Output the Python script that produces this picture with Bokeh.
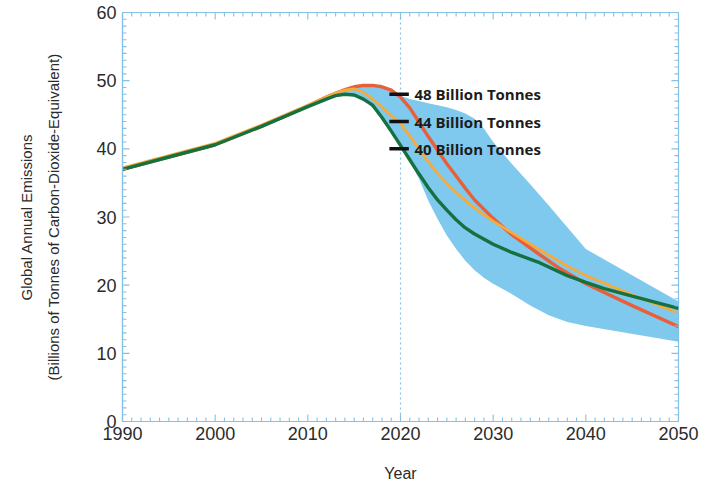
import numpy as np
from bokeh.plotting import figure
from bokeh.models import (LinearAxis, SingleIntervalTicker, FixedTicker, Range1d,
                          Span, ColumnDataSource)
from bokeh.core.properties import value
from bokeh.embed import file_html
from bokeh.resources import INLINE

# ---------------- data ----------------
green_years = [1990, 1995, 2000, 2005, 2010, 2012, 2013, 2014, 2015, 2016, 2017, 2018, 2019,
               2020, 2021, 2022, 2023, 2024, 2025, 2026, 2027, 2028, 2030, 2032, 2035, 2038,
               2040, 2042, 2045, 2050]
green_vals = [37.0, 38.8, 40.6, 43.3, 46.2, 47.3, 47.8, 48.0, 47.9, 47.3, 46.4, 44.6, 42.6,
              40.5, 38.4, 36.3, 34.3, 32.5, 31.0, 29.6, 28.4, 27.5, 26.0, 24.8, 23.3, 21.4,
              20.4, 19.5, 18.4, 16.6]

orange_years = [1990, 1995, 2000, 2005, 2010, 2012, 2013, 2014, 2015, 2016, 2017, 2018, 2019,
                2020, 2021, 2022, 2023, 2024, 2025, 2026, 2027, 2028, 2030, 2032, 2035, 2038,
                2040, 2045, 2050]
orange_vals = [37.2, 39.0, 40.8, 43.5, 46.4, 47.6, 48.2, 48.6, 48.8, 48.3, 47.3, 46.1, 44.9,
               43.7, 41.9, 40.0, 38.1, 36.4, 34.9, 33.6, 32.4, 31.3, 29.4, 27.7, 25.2, 22.8,
               21.4, 18.6, 15.9]

red_years = [1990, 2000, 2005, 2010, 2012, 2014, 2015, 2016, 2017, 2018, 2019, 2020, 2021,
             2022, 2023, 2024, 2025, 2026, 2027, 2028, 2030, 2032, 2035, 2037, 2040, 2045, 2050]
red_vals = [37.0, 40.6, 43.3, 46.3, 47.6, 48.7, 49.1, 49.3, 49.3, 49.1, 48.6, 47.6, 46.0,
            43.9, 41.8, 39.8, 37.8, 36.0, 34.2, 32.5, 29.8, 27.4, 24.5, 22.6, 20.2, 17.0, 13.9]

band_years = [2010, 2012, 2014, 2016, 2018, 2020, 2021, 2022, 2023, 2024, 2025, 2026, 2027,
              2028, 2029, 2030, 2032, 2034, 2036, 2038, 2040, 2050]
band_lower = [46.2, 47.3, 48.0, 47.3, 44.6, 40.3, 38.1, 35.6, 32.4, 29.7, 27.3, 25.3, 23.6,
              22.2, 21.1, 20.2, 18.7, 17.0, 15.6, 14.6, 14.0, 11.7]
band_upper = [46.3, 47.6, 48.7, 49.3, 49.2, 47.8, 47.3, 47.0, 46.7, 46.4, 46.1, 45.7, 45.2,
              44.4, 43.0, 41.0, 37.8, 34.8, 31.7, 28.5, 25.3, 17.6]

ann_values = [48, 44, 40]
ann_labels = ["48 Billion Tonnes", "44 Billion Tonnes", "40 Billion Tonnes"]
ann_year = 2020

X_START, X_END, X_MAJOR = 1990, 2050, 10
Y_START, Y_END, Y_MAJOR = 0, 60, 10

# ---------------- styling ----------------
AXIS_BLUE = "#86c1e3"
TXT = "#2b2b2b"
GREEN = "#157140"
ORANGE = "#f5aa3c"
RED = "#e8603a"
BAND = "#80c9ee"

p = figure(width=706, height=484, output_backend="svg", toolbar_location=None,
           x_range=Range1d(X_START, X_END), y_range=Range1d(Y_START, Y_END),
           min_border_left=122, min_border_right=28, min_border_top=12, min_border_bottom=62)
p.outline_line_color = AXIS_BLUE
p.outline_line_width = 1.2
p.xgrid.grid_line_color = None
p.ygrid.grid_line_color = None
p.background_fill_color = "white"


def style_axis(ax):
    ax.ticker = SingleIntervalTicker(interval=10, num_minor_ticks=0)
    ax.axis_line_color = AXIS_BLUE
    ax.axis_line_width = 1.2
    ax.major_tick_in = 0
    ax.major_tick_out = 0
    ax.minor_tick_in = 0
    ax.minor_tick_out = 0
    ax.major_tick_line_color = None
    ax.minor_tick_line_color = None
    ax.major_label_text_font = "Liberation Sans"
    ax.major_label_text_font_size = "18px"
    ax.major_label_text_color = TXT
    ax.axis_label_text_font = "Liberation Sans"
    ax.axis_label_text_font_style = "normal"
    ax.axis_label_text_color = TXT


xa = p.xaxis[0]
style_axis(xa)
xa.major_label_standoff = 5
xa.axis_label = "Year"
xa.axis_label_text_font_size = "16px"
xa.axis_label_standoff = 22

ya = p.yaxis[0]
style_axis(ya)
ya.major_label_standoff = 6
ya.axis_label = "(Billions of Tonnes of Carbon-Dioxide-Equivalent)"
ya.axis_label_text_font_size = "15px"
ya.axis_label_standoff = 31

ya2 = LinearAxis(ticker=FixedTicker(ticks=[]), axis_line_color=None,
                 major_tick_out=0, major_tick_in=0, minor_tick_out=0, minor_tick_in=0,
                 major_label_text_font_size="15px", major_label_standoff=0,
                 axis_label="Global Annual Emissions", axis_label_text_font="Liberation Sans",
                 axis_label_text_font_size="15px", axis_label_text_font_style="normal",
                 axis_label_text_color=TXT, axis_label_standoff=8)
p.add_layout(ya2, "left")

p.add_layout(Span(location=2020, dimension="height", line_color=AXIS_BLUE,
                  line_dash="2 3", line_width=1.2, level="underlay"))

p.varea(x=band_years, y1=band_lower, y2=band_upper, fill_color=BAND, fill_alpha=1.0)
p.line(red_years, red_vals, line_color=RED, line_width=3.4)
p.line(orange_years, orange_vals, line_color=ORANGE, line_width=2.8)
p.line(green_years, green_vals, line_color=GREEN, line_width=3.4)

# inward tick marks on all four sides of the frame (axis decoration)
x_ticks = np.arange(X_START, X_END + 1, 1)
y_ticks = np.arange(Y_START, Y_END + 1, 1)
x_len = np.where(x_ticks % X_MAJOR == 0, 7, 4)
y_len = np.where(y_ticks % Y_MAJOR == 0, 7, 4)
tick_kw = dict(line_color=AXIS_BLUE, line_width=1.1, length_units="screen")
p.ray(x=x_ticks, y=[Y_START] * len(x_ticks), length=x_len, angle=np.pi / 2, **tick_kw)
p.ray(x=x_ticks, y=[Y_END] * len(x_ticks), length=x_len, angle=-np.pi / 2, **tick_kw)
p.ray(x=[X_START] * len(y_ticks), y=y_ticks, length=y_len, angle=0, **tick_kw)
p.ray(x=[X_END] * len(y_ticks), y=y_ticks, length=y_len, angle=np.pi, **tick_kw)

ann_src = ColumnDataSource(dict(
    x0=[ann_year - 1.2] * len(ann_values), x1=[ann_year + 0.9] * len(ann_values),
    y=ann_values, tx=[ann_year + 1.5] * len(ann_values), label=ann_labels))
p.segment(x0="x0", y0="y", x1="x1", y1="y", source=ann_src, line_color="#111111",
          line_width=3.5)
p.text(x="tx", y="y", text="label", source=ann_src, text_font=value("Open Sans"),
       text_font_style="bold", text_font_size="15px", text_color="#1c1c1c",
       text_baseline="middle", text_align="left")

open("out.html", "w").write(file_html(p, INLINE))
